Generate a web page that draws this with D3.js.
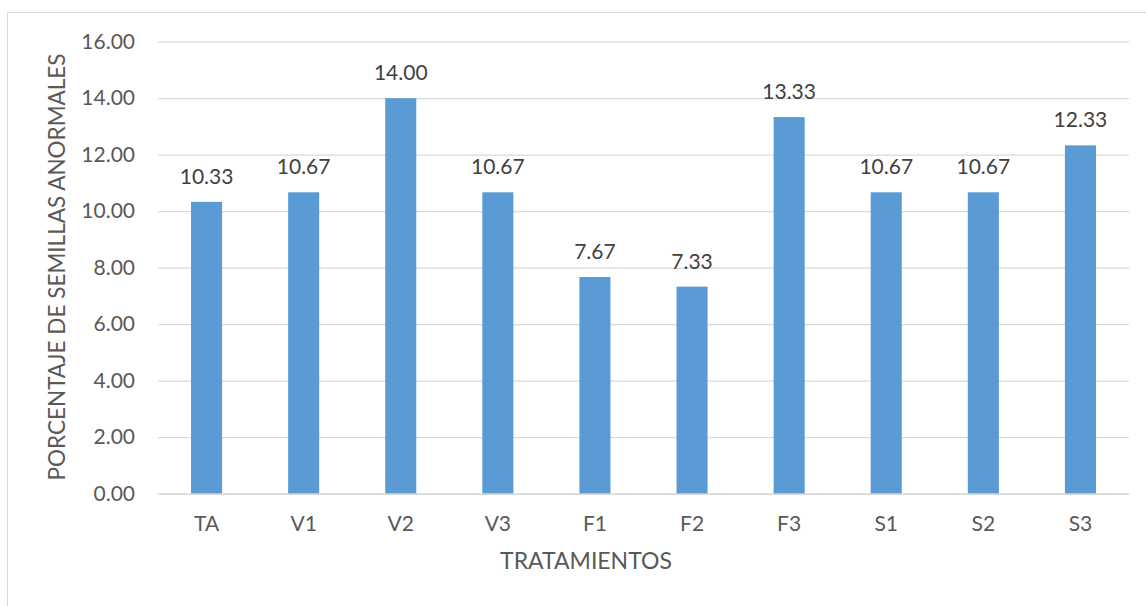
<!DOCTYPE html>
<html><head><meta charset="utf-8">
<script src="https://cdn.jsdelivr.net/npm/d3@7"></script>
<style>body{margin:0;background:#fff}svg{display:block}text{font-family:Lato,"Open Sans",sans-serif}</style>
</head><body>
<svg id="c" width="1146" height="606"></svg>
<script>
const categories = ["TA","V1","V2","V3","F1","F2","F3","S1","S2","S3"];
const values = [10.33,10.67,14.00,10.67,7.67,7.33,13.33,10.67,10.67,12.33];
const yTicks = [0,2,4,6,8,10,12,14,16];
const yTitle = "PORCENTAJE DE SEMILLAS ANORMALES";
const xTitle = "TRATAMIENTOS";

const svg = d3.select("#c");
svg.append("rect").attr("x",7.5).attr("y",12.5).attr("width",1146).attr("height",606)
  .attr("fill","#fff").attr("stroke","#d9d9d9");
const m = {l:158, r:1129, t:41.7, b:493.7};
const x = d3.scaleBand().domain(categories).range([m.l,m.r]).paddingInner(0.68).paddingOuter(0.34);
const y = d3.scaleLinear().domain([0,16]).range([m.b,m.t]);
const col = "#595959";

const ga = svg.append("g").attr("transform",`translate(${m.l},0)`)
  .call(d3.axisLeft(y).tickValues(yTicks).tickSize(-(m.r-m.l)).tickPadding(23).tickFormat(d3.format(".2f")));
ga.select(".domain").remove();
ga.selectAll(".tick line").attr("stroke","#d9d9d9").attr("stroke-width",1.3);
ga.selectAll(".tick text").attr("fill",col).style("font-size","21px").style("font-family","Lato");

svg.append("g").selectAll("rect").data(values).join("rect")
  .attr("x",(d,i)=>x(categories[i])).attr("width",x.bandwidth())
  .attr("y",d=>y(d)).attr("height",d=>y(0)-y(d)).attr("fill","#5b9bd5");

const gx = svg.append("g").attr("transform",`translate(0,${m.b})`)
  .call(d3.axisBottom(x).tickSize(0).tickPadding(22));
gx.select(".domain").attr("stroke","#d9d9d9").attr("stroke-width",1.5);
gx.selectAll(".tick text").attr("fill",col).style("font-size","21px").style("font-family","Lato");

svg.append("g").selectAll("text").data(values).join("text")
  .attr("x",(d,i)=>x(categories[i])+x.bandwidth()/2).attr("y",d=>y(d)-18)
  .attr("text-anchor","middle").attr("fill","#404040").style("font-size","21px")
  .text(d=>d.toFixed(2));

svg.append("text").attr("transform",`translate(65,267) rotate(-90)`)
  .attr("text-anchor","middle").attr("fill",col).style("font-size","22.5px").text(yTitle);
svg.append("text").attr("x",586).attr("y",569).attr("text-anchor","middle")
  .attr("fill",col).style("font-size","23px").text(xTitle);
</script>
</body></html>
